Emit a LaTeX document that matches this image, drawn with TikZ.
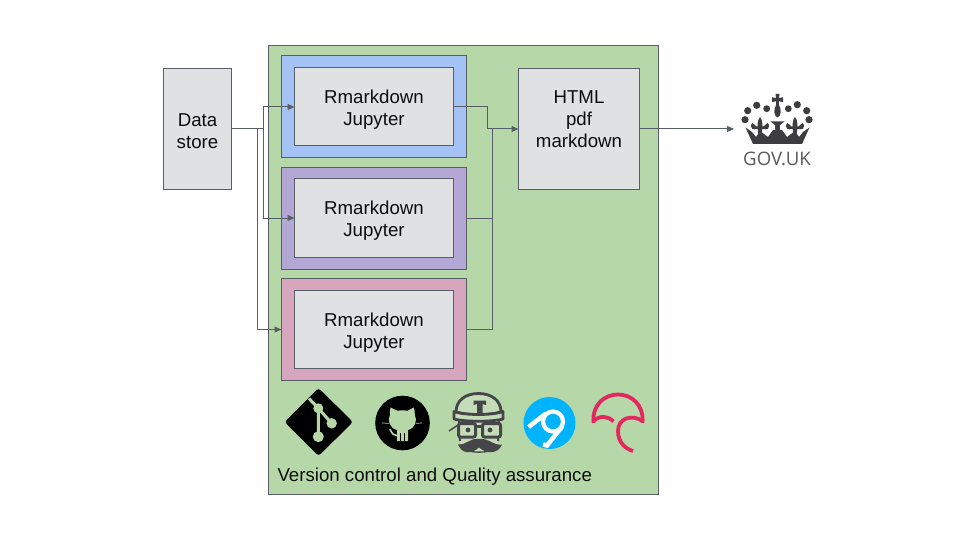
\documentclass[tikz,border=0pt]{standalone}
\usepackage{fontspec}
\setmainfont{Liberation Sans}
\newfontfamily\govfont{Open Sans}
\usetikzlibrary{arrows.meta}
\definecolor{bgreen}{HTML}{B6D7A8}
\definecolor{bblue}{HTML}{A4C2F4}
\definecolor{bpurple}{HTML}{B4A7D6}
\definecolor{bpink}{HTML}{D5A6BD}
\definecolor{bgray}{HTML}{E0E1E3}
\definecolor{edge}{HTML}{595F66}
\definecolor{crown}{HTML}{3D3D3F}
\definecolor{travis}{HTML}{45454A}
\definecolor{travislight}{HTML}{C4DCB8}
\definecolor{appv}{HTML}{00B3FF}
\definecolor{umbr}{HTML}{E2285F}
\newcommand{\lowerinner}{\rule{0pt}{19.5pt}}
\newcommand{\lowerdata}{\rule{0pt}{16.5pt}}
\tikzset{
  box/.style={draw=edge,line width=1pt,rectangle,inner sep=0pt,outer sep=0pt,align=center,
    font=\fontsize{18.67}{22}\selectfont,text=black!95},
  outerbox/.style={box,minimum width=185pt,minimum height=102pt},
  innerbox/.style={box,fill=bgray,minimum width=159pt,minimum height=78pt},
  sidebox/.style={box,fill=bgray},
  plain/.style={inner sep=0pt,outer sep=0pt,align=center,font=\fontsize{18.67}{22}\selectfont,text=black!95},
  link/.style={draw=edge,line width=1pt},
  arrowlink/.style={link,-{Triangle[length=7pt,width=6pt]}},
}
\begin{document}
\begin{tikzpicture}[x=1pt,y=-1pt]
\useasboundingbox (0,0) rectangle (960,540);
\fill[white] (0,0) rectangle (960,540);
% containers
\node[box,fill=bgreen,minimum width=390pt,minimum height=449pt] (qa) at (463.5,270) {};
\node[sidebox,minimum width=68pt,minimum height=121pt] (data) at (197.5,129) {\lowerdata Data\\store};
\node[outerbox,fill=bblue] (o1) at (374,106.5) {};
\node[outerbox,fill=bpurple] (o2) at (374,218.5) {};
\node[outerbox,fill=bpink] (o3) at (374,329.5) {};
\node[innerbox] (i1) at (374,107) {\lowerinner Rmarkdown\\Jupyter};
\node[innerbox] (i2) at (374,218) {\lowerinner Rmarkdown\\Jupyter};
\node[innerbox] (i3) at (374,329.5) {\lowerinner Rmarkdown\\Jupyter};
\node[sidebox,minimum width=121pt,minimum height=121pt] (out) at (579,129) {};
\node[plain] (outtext) at (579,119) {HTML\\pdf\\markdown};
\node[plain,anchor=west] (qatext) at (277.5,477) {Version control and Quality assurance};
% connector junctions
\coordinate (j1) at (263,129);
\coordinate (j2) at (257,129);
\coordinate (m1) at (487,107);
\coordinate (m2) at (487,129);
\coordinate (m3) at (492,129);
\coordinate (gov) at (734,129);
\draw[link] (data.east) -- (j1);
\draw[arrowlink] (j1) |- (i1.west);
\draw[arrowlink] (j1) |- (i2.west);
\draw[arrowlink] (j2) |- (o3.west);
\draw[link] (i1.east) -- (m1) -- (m2);
\draw[arrowlink] (m2) -- (out.west);
\draw[link] (o2.east) -| (m3);
\draw[link] (o3.east) -| (m3);
\draw[arrowlink] (out.east) -- (gov);
% git
\fill[black,rounded corners=3pt] (318.5,388) -- (353,422) -- (318.5,456) -- (284.5,422) -- cycle;
\draw[bgreen,line width=3pt] (309,398.5) -- (318.3,408.3) -- (318.3,436.5);
\draw[bgreen,line width=3pt] (318.3,408.3) -- (331.5,423);
\fill[bgreen] (318.3,408.3) circle (5);
\fill[bgreen] (318.3,436.7) circle (5.5);
\fill[bgreen] (331.7,423.3) circle (5.2);
% github
\fill[black] (402.5,423) circle (27.3);
\fill[bgreen] (390.5,407.5) -- (397.5,410.8) .. controls (400.5,410.2) and (404.5,410.2) .. (407.5,410.8) -- (413.8,407.5)
  .. controls (414.5,410) and (415,412.5) .. (414.8,415) .. controls (417.5,420) and (415.5,428) .. (408,430)
  -- (408,441) -- (397,441) -- (397,430) .. controls (389,428) and (387.5,420) .. (390,415)
  .. controls (389.8,412.5) and (390,410) .. (390.5,407.5) -- cycle;
\draw[bgreen,line width=1.6pt] (390,429) .. controls (392,434) and (394,436) .. (397,435.5);
\draw[bgreen,line width=0.7pt] (382,423) -- (389,423.3) (416,423.3) -- (422,423);
\draw[black,line width=0.8pt] (400.8,433) -- (400.8,441) (404.2,433) -- (404.2,441);
% travis
\begin{scope}[line join=round]
\fill[travislight] (458,418) -- (499,418) -- (498,442) -- (490,452) -- (468,452) -- (459,442) -- cycle;
\filldraw[fill=travislight,draw=travis,line width=2.8pt] (456,412) .. controls (456,400) and (466,393.5) .. (478.5,393.5) .. controls (491,393.5) and (501,400) .. (501,412) .. controls (490,415.5) and (467,415.5) .. (456,412) -- cycle;
\filldraw[fill=travislight,draw=travis,line width=2.8pt] (454,411.5) .. controls (465,415.5) and (492,415.5) .. (503,411.5) -- (503,419) .. controls (492,422) and (465,422) .. (454,419) -- cycle;
\fill[travis] (473.5,400.5) -- (486,400.5) -- (486,405) -- (482.5,404) -- (482.5,413) -- (477,413) -- (477,404) -- (473.5,405) -- cycle;
\draw[travis,line width=2pt] (459,421) -- (460,441) (499,421) -- (498,441);
\filldraw[fill=travislight,draw=travis,line width=3pt,rounded corners=2pt] (458.5,423.5) rectangle (475.5,437);
\filldraw[fill=travislight,draw=travis,line width=3pt,rounded corners=2pt] (482.5,423.5) rectangle (500.5,437);
\draw[travis,line width=3pt] (475.5,426.5) -- (482.5,426.5);
\draw[travis,line width=1.5pt] (449,431) -- (458,425);
\fill[travis] (468,430) circle (2.4);
\fill[travis] (490,430) circle (2.4);
\fill[travis] (458,444.5) .. controls (465,446) and (470,437.5) .. (479,439) .. controls (488,437.5) and (494,446) .. (502,444.5)
  .. controls (498,454) and (487,454.5) .. (479,447.5) .. controls (471,454.5) and (462,454) .. (458,444.5) -- cycle;
\draw[travis,line width=1.3pt] (470,451) .. controls (473,452.5) and (485,452.5) .. (489,451);
\end{scope}
% appveyor
\fill[appv] (549.5,423) circle (26);
\draw[white,line width=4.2pt] (553,421.5) circle (10);
\draw[white,line width=4.5pt] (528.5,427) -- (546,413.5);
\draw[white,line width=4.5pt] (562.5,426) -- (547,445.5) -- (543,444.5);
% umbrella
\draw[umbr,line width=3.8pt] (593.5,423) .. controls (592,404) and (605,394.5) .. (618,394.5)
  .. controls (631,394.5) and (644,404) .. (642.5,423);
\draw[umbr,line width=3.8pt] (593.5,421) .. controls (600,415) and (608,416) .. (613.5,421.5);
\draw[umbr,line width=3.8pt] (642.5,421) .. controls (632,414) and (618,418) .. (618,431)
  .. controls (618,443) and (626,449) .. (633,451);
% crown
\fill[crown] (747.7,110.7) circle (3.6) (756.7,105.3) circle (3.6) (766.7,108.7) circle (3.4)
  (788.3,108.7) circle (3.4) (797.3,104.7) circle (3.6) (806.7,110.7) circle (3.6)
  (745,119.7) circle (3.6) (809,119.7) circle (3.6);
\fill[crown] (775.5,94) -- (779.5,94) -- (778.9,98) -- (783,97.3) -- (783,102) -- (778.9,101.3) -- (778.9,105)
  .. controls (781.5,109) and (781.5,116) .. (777.5,117.5) .. controls (773.5,116) and (773.5,109) .. (776.1,105)
  -- (776.1,101.3) -- (772,102) -- (772,97.3) -- (776.1,98) -- cycle;
\fill[crown] (745.5,127.5) -- (752,132) -- (756,137) -- (760,131) -- (768,137) -- (773,130) -- (782,130) -- (787,137) -- (795,131) -- (799,137) -- (803,132) -- (809.5,127.5) -- (802,144) -- (753,144) -- cycle;
\fill[crown] (760,117) .. controls (763,121) and (763,125) .. (761.5,136) -- (758.5,136) .. controls (757,125) and (757,121) .. (760,117) -- cycle;
\fill[crown] (795,117) .. controls (798,121) and (798,125) .. (796.5,136) -- (793.5,136) .. controls (792,125) and (792,121) .. (795,117) -- cycle;
\fill[crown] (752,126.5) rectangle (768,129) (787,126.5) rectangle (803,129);
\fill[crown] (752.5,123) .. controls (749.5,125) and (751,129) .. (755,129.5) -- (756,126) -- cycle;
\fill[crown] (767.5,123) .. controls (770.5,125) and (769,129) .. (765,129.5) -- (764,126) -- cycle;
\fill[crown] (787.5,123) .. controls (784.5,125) and (786,129) .. (790,129.5) -- (791,126) -- cycle;
\fill[crown] (802.5,123) .. controls (805.5,125) and (804,129) .. (800,129.5) -- (799,126) -- cycle;
\fill[crown] (770.5,121.5) -- (784.5,121.5) -- (780,125) -- (779.3,137) -- (775.7,137) -- (775,125) -- cycle;
\node[inner sep=0pt,outer sep=0pt,text=crown!85!white] (govuk) at (777,159) {\fontsize{18.6}{20}\selectfont\govfont GOV.UK};
\end{tikzpicture}
\end{document}
